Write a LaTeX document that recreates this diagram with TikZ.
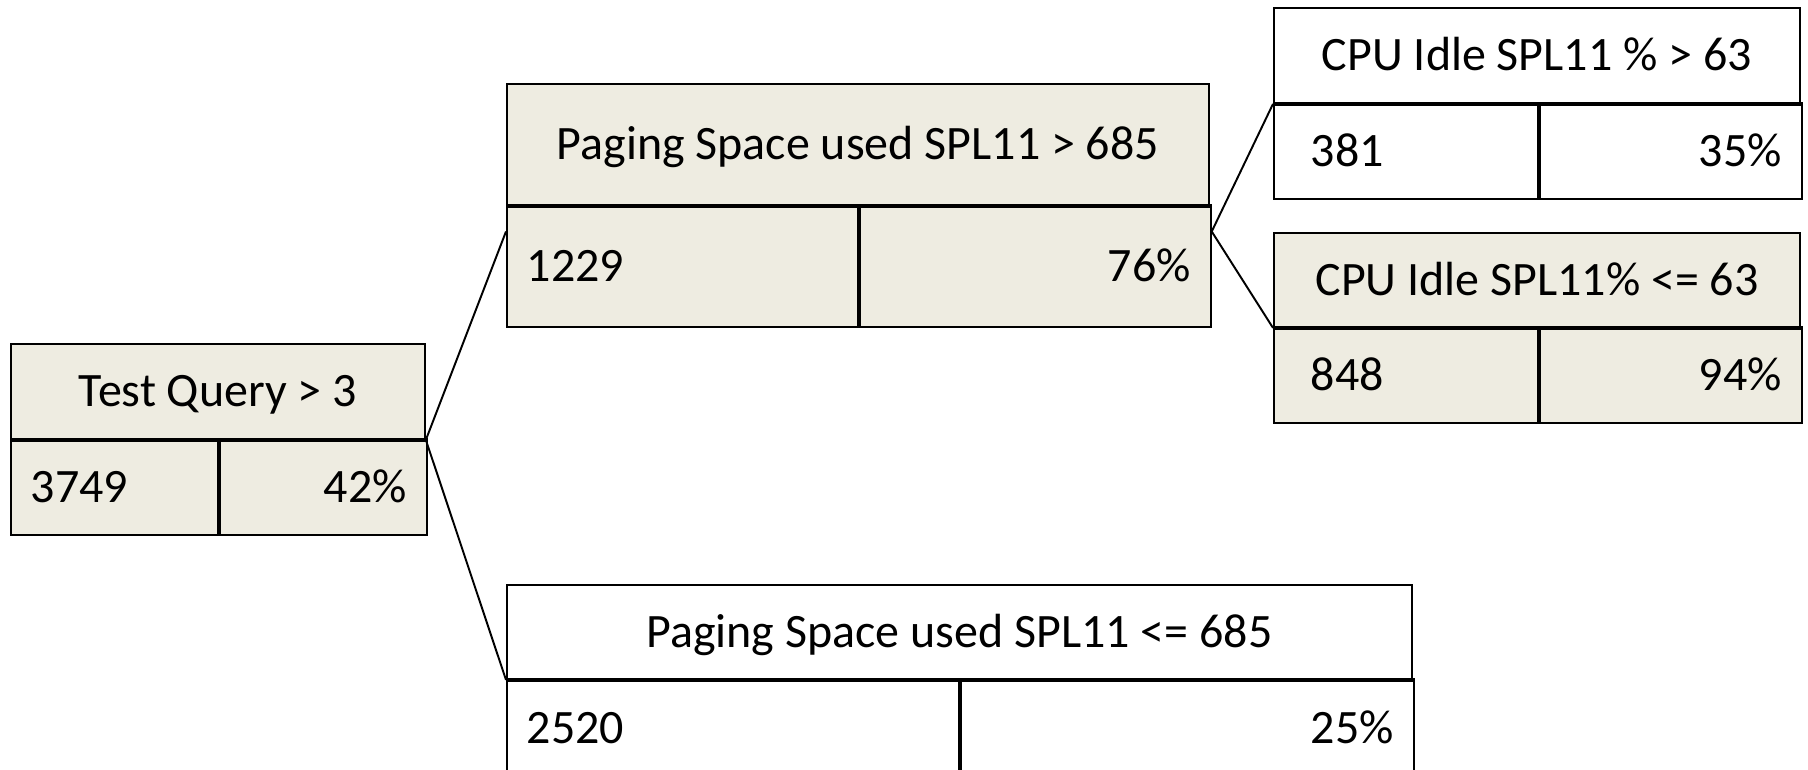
\documentclass[tikz,border=0pt]{standalone}
\usepackage{fontspec}
\setmainfont{Carlito}
\usetikzlibrary{calc}
\definecolor{boxtan}{HTML}{EEECE1}
\tikzstyle{head} = [rectangle, draw=black, line width=1.1pt, anchor=north west, inner sep=0pt, text height=17.2pt, text depth=0pt, font=\fontsize{27.3}{33}\selectfont]
\tikzstyle{cell} = [head, inner xsep=0pt]
\tikzstyle{filled} = [fill=boxtan]
\tikzstyle{divider} = [line width=2pt]
\tikzstyle{link} = [line width=1.1pt]

\begin{document}
\begin{tikzpicture}[x=0.02cm, y=-0.02cm]
    \useasboundingbox (0,0) rectangle (1808,770);
    \clip (0,0) rectangle (1808,770);

    % Nodes
    \node (tq) [head, filled, minimum width=8.28cm, minimum height=1.90cm] at (10,343) {Test Query > 3};
    \node (tq-n) [cell, filled, minimum width=4.14cm, minimum height=1.88cm, text width=3.34cm, align=left] at (tq.south west) {3749};
    \node (tq-pct) [cell, filled, minimum width=4.14cm, minimum height=1.88cm, text width=3.34cm, align=right] at (tq-n.north east) {42\%};

    \node (p1) [head, filled, minimum width=14.04cm, minimum height=2.42cm] at (506,83) {Paging Space used SPL11 > 685};
    \node (p1-n) [cell, filled, minimum width=7.02cm, minimum height=2.40cm, text width=6.22cm, align=left] at (p1.south west) {1229};
    \node (p1-pct) [cell, filled, minimum width=7.02cm, minimum height=2.40cm, text width=6.22cm, align=right] at (p1-n.north east) {76\%};

    \node (c1) [head, minimum width=10.52cm, minimum height=1.90cm] at (1273,7) {CPU Idle SPL11 \% > 63};
    \node (c1-n) [cell, minimum width=5.28cm, minimum height=1.88cm, text width=3.80cm, align=left] at (c1.south west) {381};
    \node (c1-pct) [cell, minimum width=5.24cm, minimum height=1.88cm, text width=4.44cm, align=right] at (c1-n.north east) {35\%};

    \node (c2) [head, filled, minimum width=10.52cm, minimum height=1.88cm] at (1273,232) {CPU Idle SPL11\% <= 63};
    \node (c2-n) [cell, filled, minimum width=5.28cm, minimum height=1.88cm, text width=3.80cm, align=left] at (c2.south west) {848};
    \node (c2-pct) [cell, filled, minimum width=5.24cm, minimum height=1.88cm, text width=4.44cm, align=right] at (c2-n.north east) {94\%};

    \node (p2) [head, minimum width=18.10cm, minimum height=1.88cm] at (506,584) {Paging Space used SPL11 <= 685};
    \node (p2-n) [cell, minimum width=9.04cm, minimum height=1.90cm, text width=8.24cm, align=left] at (p2.south west) {2520};
    \node (p2-pct) [cell, minimum width=9.06cm, minimum height=1.90cm, text width=8.26cm, align=right] at (p2-n.north east) {25\%};

    % Dividers
    \draw [divider] (tq-n.north west) -- (tq-pct.north east);
    \draw [divider] (tq-n.north east) -- (tq-n.south east);
    \draw [divider] (p1-n.north west) -- (p1-pct.north east);
    \draw [divider] (p1-n.north east) -- (p1-n.south east);
    \draw [divider] (c1-n.north west) -- (c1-pct.north east);
    \draw [divider] (c1-n.north east) -- (c1-n.south east);
    \draw [divider] (c2-n.north west) -- (c2-pct.north east);
    \draw [divider] (c2-n.north east) -- (c2-n.south east);
    \draw [divider] (p2-n.north west) -- (p2-pct.north east);
    \draw [divider] (p2-n.north east) -- (p2-n.south east);

    % Links
    \coordinate (p1-in) at ($(p1-n.north west)!0.21!(p1-n.south west)$);
    \coordinate (p1-out) at ($(p1-pct.north east)!0.21!(p1-pct.south east)$);
    \draw [link] (tq.south east) -- (p1-in);
    \draw [link] (tq.south east) -- (p2.south west);
    \draw [link] (p1-out) -- (c1.south west);
    \draw [link] (p1-out) -- (c2.south west);

\end{tikzpicture}
\end{document}
